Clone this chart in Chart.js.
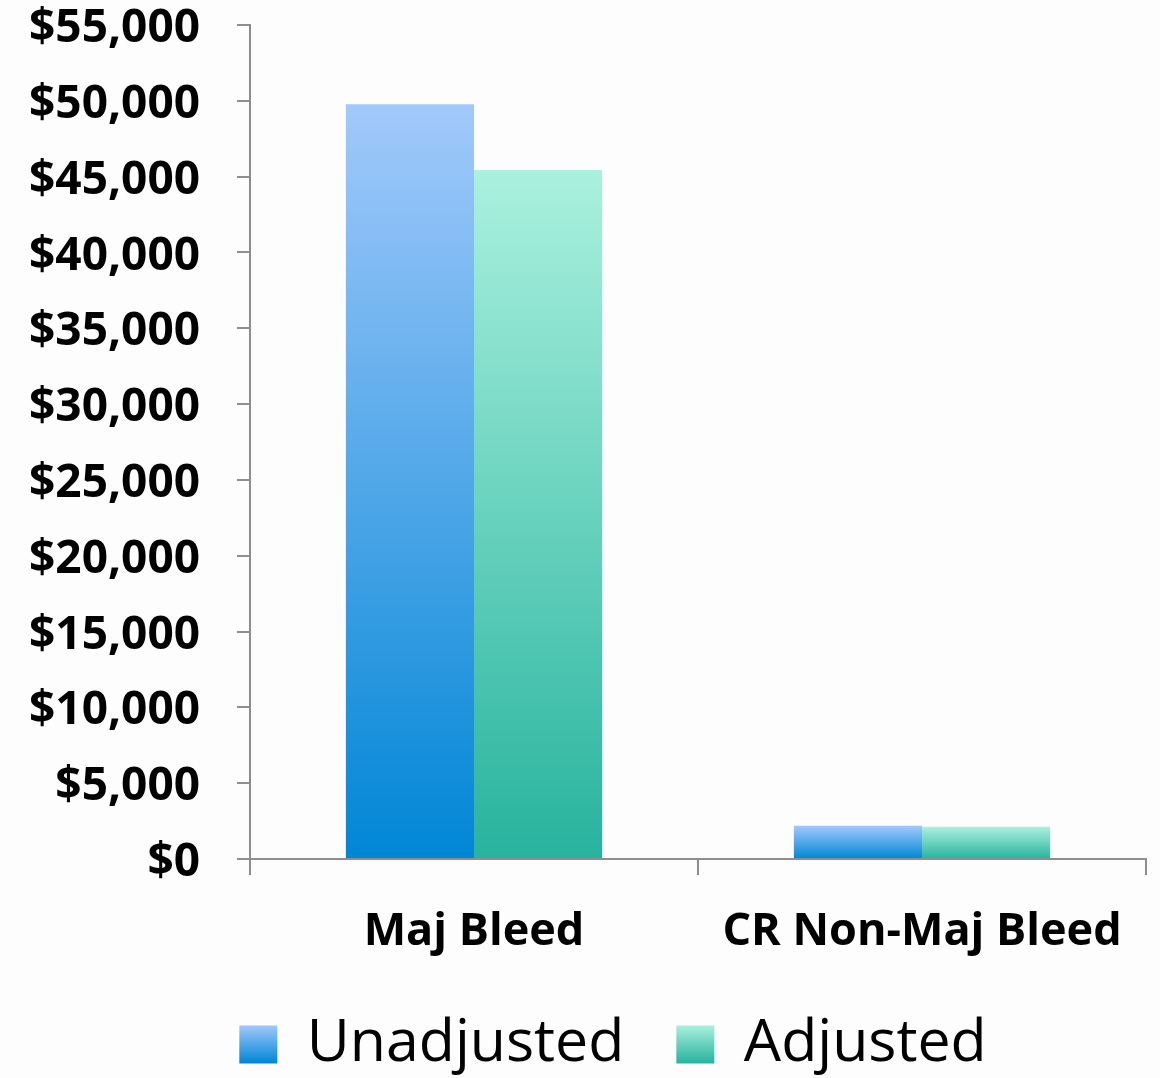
<!DOCTYPE html>
<html>
<head>
<meta charset="utf-8">
<script src="https://cdn.jsdelivr.net/npm/chart.js@4.4.1/dist/chart.umd.min.js"></script>
<style>
    html, body { margin: 0; padding: 0; background: #fdfdfd; }
    #wrap { width: 1160px; height: 1078px; position: relative; }
</style>
</head>
<body>
<div id="wrap"><canvas id="costChart"></canvas></div>
<script>
const categories = ["Maj Bleed", "CR Non-Maj Bleed"];
const seriesNames = ["Unadjusted", "Adjusted"];
const unadjusted = [49770, 2200];
const adjusted = [45440, 2130];
const yMax = 55000;
const yStep = 5000;

const FONT = "'Open Sans', 'DejaVu Sans', sans-serif";
const AXIS_GRAY = "#8e8e8e";

// top / bottom colours of each bar gradient
const gradientStops = [
    ["#a2c9fb", "#0086d6"],
    ["#aaf1de", "#27b39e"]
];

function makeGradient(chart, y0, y1, stops) {
    const g = chart.ctx.createLinearGradient(0, y0, 0, y1);
    g.addColorStop(0, stops[0]);
    g.addColorStop(1, stops[1]);
    return g;
}

// every bar gets its own top-to-base gradient
function barFill(context) {
    const stops = gradientStops[context.datasetIndex];
    const { chartArea, scales } = context.chart;
    if (!chartArea || context.type !== "data") return stops[1];
    const yTop = scales.y.getPixelForValue(context.parsed.y);
    const yBase = scales.y.getPixelForValue(0);
    return makeGradient(context.chart, yTop, yBase, stops);
}

// nudge the legend row so it sits where the original one does
const legendOffset = {
    id: "legendOffset",
    afterLayout(chart) {
        chart.legend.left = 80;
    }
};

const ctx = document.getElementById("costChart");
new Chart(ctx, {
    type: "bar",
    data: {
        labels: categories,
        datasets: [
            { label: seriesNames[0], data: unadjusted, backgroundColor: barFill, borderWidth: 0 },
            { label: seriesNames[1], data: adjusted, backgroundColor: barFill, borderWidth: 0 }
        ]
    },
    plugins: [legendOffset],
    options: {
        responsive: true,
        maintainAspectRatio: false,
        animation: false,
        categoryPercentage: 0.572,
        barPercentage: 1.0,
        layout: { padding: { left: 20, right: 14, top: 0, bottom: -6 } },
        plugins: {
            tooltip: { enabled: false },
            legend: {
                position: "bottom",
                labels: {
                    boxWidth: 38,
                    boxHeight: 38,
                    padding: 52,
                    color: "#000",
                    font: { family: FONT, size: 59, weight: "normal" },
                    generateLabels: chart => chart.data.datasets.map((ds, i) => {
                        const h = chart.height;
                        return {
                            text: ds.label,
                            fillStyle: makeGradient(chart, h - 53, h - 15, gradientStops[i]),
                            strokeStyle: "rgba(0,0,0,0)",
                            lineWidth: 0,
                            fontColor: "#000",
                            hidden: false,
                            datasetIndex: i
                        };
                    })
                }
            }
        },
        scales: {
            x: {
                grid: {
                    drawOnChartArea: false,
                    drawTicks: true,
                    tickLength: 16,
                    color: AXIS_GRAY,
                    lineWidth: 2
                },
                border: { color: AXIS_GRAY, width: 2 },
                ticks: {
                    color: "#000",
                    padding: 32,
                    font: { family: FONT, size: 45, weight: "bold", lineHeight: 1.1 }
                },
                afterFit: scale => { scale.height = 104; }
            },
            y: {
                min: 0,
                max: yMax,
                grid: {
                    drawOnChartArea: false,
                    drawTicks: true,
                    tickLength: 13,
                    color: AXIS_GRAY,
                    lineWidth: 2
                },
                border: { color: AXIS_GRAY, width: 2 },
                ticks: {
                    stepSize: yStep,
                    color: "#000",
                    padding: 37,
                    labelOffset: 4,
                    font: { family: FONT, size: 46, weight: "bold", lineHeight: 1.1 },
                    callback: v => "$" + v.toLocaleString("en-US")
                },
                afterFit: scale => {
                    scale.width = 230;
                    scale.paddingTop = 25;
                }
            }
        }
    }
});
</script>
</body>
</html>
